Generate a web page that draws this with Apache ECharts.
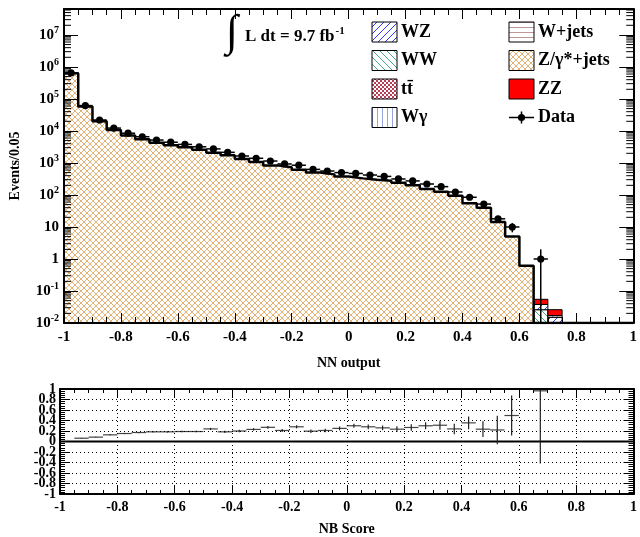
<!DOCTYPE html>
<html><head><meta charset="utf-8">
<script src="https://cdn.jsdelivr.net/npm/echarts@6/dist/echarts.min.js"></script>
<style>html,body{margin:0;padding:0;background:#fff}#c{width:640px;height:537px}</style>
</head><body><div id="c"></div>
<script>
// ---------------- data ----------------
const binCenters = [-0.975,-0.925,-0.875,-0.825,-0.775,-0.725,-0.675,-0.625,-0.575,-0.525,
  -0.475,-0.425,-0.375,-0.325,-0.275,-0.225,-0.175,-0.125,-0.075,-0.025,
  0.025,0.075,0.125,0.175,0.225,0.275,0.325,0.375,0.425,0.475,
  0.525,0.575,0.625,0.675,0.725,0.775,0.825,0.875,0.925,0.975];
const zjets = [640000,58000,20000,10700,7200,5500,4300,3600,3100,2600,
  2100,1750,1320,1080,840,735,610,505,440,375,
  330,300,280,242,200,154,126,94,55,40,
  14.2,5.0,0.62,0,0,0,0,0,0,0];
const ww = [0,0,0,0,0,0,0,0,0,0, 0,0,0,0,0,0,0,0,0,0, 0,0,0,0,0,0,0,0,0,0, 0,0,0,0.026,0.004,0,0,0,0,0];
const wz = [0,0,0,0,0,0,0,0,0,0, 0,0,0,0,0,0,0,0,0,0, 0,0,0,0,0,0,0,0,0,0, 0,0,0,0.012,0.011,0,0,0,0,0];
const wjets = [0,0,0,0,0,0,0,0,0,0, 0,0,0,0,0,0,0,0,0,0, 0,0,0,0,0,0,0,0,0,0, 0,0,0,0,0,0,0,0,0,0];
const ttbar = [0,0,0,0,0,0,0,0,0,0, 0,0,0,0,0,0,0,0,0,0, 0,0,0,0,0,0,0,0,0,0, 0,0,0,0,0,0,0,0,0,0];
const wgamma = [0,0,0,0,0,0,0,0,0,0, 0,0,0,0,0,0,0,0,0,0, 0,0,0,0,0,0,0,0,0,0, 0,0,0,0,0.002,0,0,0,0,0];
const zz = [0,0,0,0,0,0,0,0,0,0, 0,0,0,0,0,0,0,0,0,0, 0,0,0,0,0,0,0,0,0,0, 0,0,0,0.017,0.009,0,0,0,0,0];
const dataVals = [650000,62000,22000,12300,8500,6600,5200,4450,3800,3200,
  2750,2150,1650,1400,1150,930,850,630,560,500,
  470,420,380,316,275,220,182,124,85,52,
  18,10,null,1,null,null,null,null,null,null];
const dataErr = [806,249,148,111,92,81,72,67,62,57,
  52,46,41,37,34,30,29,25,24,22,
  22,20,19,18,17,15,13,11,9.2,7.2,
  4.2,3.2,null,1,null,null,null,null,null,null];
const ratioVals = [null,0.063,0.083,0.127,0.152,0.171,0.184,0.184,0.19,0.19,
  0.24,0.184,0.20,0.23,0.27,0.21,0.28,0.197,0.21,0.25,
  0.30,0.28,0.26,0.235,0.267,0.30,0.31,0.24,0.355,0.235,
  0.22,0.495,null,0.965,null,null,null,null,null,null];
const ratioErr = [null,0.005,0.007,0.009,0.011,0.012,0.013,0.014,0.015,0.016,
  0.02,0.02,0.022,0.024,0.026,0.028,0.03,0.033,0.035,0.037,
  0.04,0.045,0.045,0.055,0.06,0.065,0.085,0.1,0.12,0.15,
  0.27,0.38,null,1.385,null,null,null,null,null,null];
const logTickExps = [-2,-1,0,1,2,3,4,5,6,7];
const ratioTickLabels = [-1,-0.8,-0.6,-0.4,-0.2,0,0.2,0.4,0.6,0.8,1];
const legendLabels = ['WZ','WW','t\u0074\u0304','W\u03b3','W+jets','Z/\u03b3*+jets','ZZ','Data'];
const lumiText = 'L dt = 9.7 fb';
const lumiExp = '-1';

// ---------------- setup ----------------
const HALF = 0.025;
const Y_MIN = -2, Y_MAX = 7.81;
const FONT = 'Liberation Serif';
const lg = v => Math.log10(v);

function makePattern(size, draw) {
  const c = document.createElement('canvas'); c.width = c.height = size;
  const g = c.getContext('2d'); g.fillStyle = '#fff'; g.fillRect(0, 0, size, size);
  draw(g, size);
  return {image: c, repeat: 'repeat'};
}
const patZ = makePattern(6, (g, s) => { g.strokeStyle = 'rgb(228,176,115)'; g.lineWidth = 1;
  g.beginPath(); g.moveTo(0,0); g.lineTo(s,s); g.moveTo(s,0); g.lineTo(0,s); g.stroke(); });
const patWZ = makePattern(7, (g, s) => { g.strokeStyle = 'rgb(50,60,255)'; g.lineWidth = 1;
  g.beginPath(); g.moveTo(0,s); g.lineTo(s,0); g.moveTo(-1,1); g.lineTo(1,-1); g.moveTo(s-1,s+1); g.lineTo(s+1,s-1); g.stroke(); });
const patWW = makePattern(7, (g, s) => { g.strokeStyle = 'rgb(70,170,130)'; g.lineWidth = 1;
  g.beginPath(); g.moveTo(0,0); g.lineTo(s,s); g.moveTo(s-1,-1); g.lineTo(s+1,1); g.moveTo(-1,s-1); g.lineTo(1,s+1); g.stroke(); });
const patTT = makePattern(4, (g) => { g.fillStyle = 'rgb(185,60,85)'; g.fillRect(0,0,2,2); g.fillRect(2,2,2,2); });
const patWG = makePattern(5, (g) => { g.fillStyle = 'rgb(150,165,225)'; g.fillRect(2,0,1,5); });
const patWJ = makePattern(5, (g) => { g.fillStyle = 'rgb(190,150,150)'; g.fillRect(0,2,5,1); });
const colZZ = '#ff0000';

const components = [
  {vals: ww, fill: patWW, stroke: '#000'},
  {vals: wz, fill: patWZ, stroke: '#000'},
  {vals: wjets, fill: patWJ, stroke: '#000'},
  {vals: zjets, fill: patZ, stroke: null},
  {vals: ttbar, fill: patTT, stroke: '#000'},
  {vals: wgamma, fill: patWG, stroke: '#000'},
  {vals: zz, fill: colZZ, stroke: '#000'}
];
const cum = binCenters.map(() => 0);
components.forEach(c => {
  c.items = [];
  binCenters.forEach((x, i) => {
    const v = c.vals[i];
    if (v > 0) {
      const lo = cum[i], hi = cum[i] + v;
      c.items.push([x - HALF, x + HALF, lo > 0 ? lg(lo) : Y_MIN - 1, lg(hi)]);
      cum[i] = hi;
    }
  });
});

const stackSeries = components.map(c => ({
  type: 'custom', xAxisIndex: 0, yAxisIndex: 0, clip: true, z: 2,
  encode: {x: [0, 1], y: [2, 3]},
  data: c.items,
  renderItem: (params, api) => {
    const lo = Math.max(api.value(2), Y_MIN), hi = Math.min(api.value(3), Y_MAX);
    const p0 = api.coord([api.value(0), lo]);
    const p1 = api.coord([api.value(1), hi]);
    return {type: 'rect',
      shape: {x: p0[0], y: p1[1], width: p1[0] - p0[0], height: p0[1] - p1[1]},
      style: {fill: c.fill, stroke: c.stroke || null, lineWidth: c.stroke ? 1 : 0}};
  }
}));

// outline of the Z+jets histogram
const outline = [];
binCenters.forEach((x, i) => {
  const v = zjets[i];
  const y = v > 0 ? Math.max(lg(v), Y_MIN) : Y_MIN;
  outline.push([x - HALF, y], [x + HALF, y]);
});

const dataItems = [];
binCenters.forEach((x, i) => { if (dataVals[i] != null) dataItems.push([x, dataVals[i], dataErr[i]]); });
const ratioItems = [];
binCenters.forEach((x, i) => { if (ratioVals[i] != null) ratioItems.push([x, ratioVals[i], ratioErr[i]]); });

const minorLog = [];
logTickExps.forEach(n => { for (let m = 2; m <= 9; m++) { const l = n + lg(m); if (l < Y_MAX) minorLog.push([-1, l]); } });

const labelStyle = {fontFamily: FONT, fontWeight: 'bold', color: '#000'};
const axisBase = {z: 10, axisLine: {show: true, onZero: false, lineStyle: {color: '#000', width: 2}}, splitLine: {show: false}};

const chart = echarts.init(document.getElementById('c'), null, {renderer: 'canvas'});
const legendX1 = 372, legendX2 = 509, legendTop = 22, rowStep = 28.5, boxW = 25, boxH = 20;
const legendFills = [patWZ, patWW, patTT, patWG, patWJ, patZ, colZZ, null];
const graphics = [];
legendLabels.forEach((lab, k) => {
  const col = k < 4 ? 0 : 1, row = k % 4;
  const bx = col ? legendX2 : legendX1, by = legendTop + row * rowStep;
  if (legendFills[k]) {
    graphics.push({type: 'rect', shape: {x: bx, y: by, width: boxW, height: boxH},
      style: {fill: legendFills[k], stroke: '#000', lineWidth: 1}});
  } else {
    const cy = by + boxH / 2, cx = bx + boxW / 2;
    graphics.push({type: 'line', shape: {x1: bx, y1: cy, x2: bx + boxW, y2: cy}, style: {stroke: '#000', lineWidth: 1.5}});
    graphics.push({type: 'line', shape: {x1: cx, y1: cy - 6, x2: cx, y2: cy + 6}, style: {stroke: '#000', lineWidth: 1.5}});
    graphics.push({type: 'circle', shape: {cx: cx, cy: cy, r: 3.6}, style: {fill: '#000'}});
  }
  graphics.push({type: 'text', x: bx + boxW + 4, y: by + boxH / 2,
    style: {text: lab, font: 'bold 18px "' + FONT + '"', fill: '#000', verticalAlign: 'middle', align: 'left'}});
});
graphics.push({type: 'text', x: 226, y: 33,
  style: {text: '\u222b', font: '44px "' + FONT + '"', fill: '#000', verticalAlign: 'middle', align: 'left'}});
graphics.push({type: 'text', x: 245, y: 37,
  style: {text: '{a|' + lumiText + '}{s|' + lumiExp + '}', verticalAlign: 'middle', align: 'left',
    rich: {a: {fontFamily: FONT, fontWeight: 'bold', fontSize: 17, fill: '#000', color: '#000'},
           s: {fontFamily: FONT, fontWeight: 'bold', fontSize: 11, color: '#000', fill: '#000', padding: [0, 0, 12, 1]}}}});

const option = {
  animation: false,
  backgroundColor: '#fff',
  grid: [
    {left: 60, right: 2, top: 9, height: 314, show: false},
    {left: 60, right: 2, top: 389, height: 105, show: false}
  ],
  xAxis: [
    Object.assign({}, axisBase, {gridIndex: 0, type: 'value', min: -1, max: 1, interval: 0.2, position: 'bottom',
      axisTick: {inside: true, length: 10, lineStyle: {color: '#000', width: 1}},
      minorTick: {show: true, splitNumber: 4, length: 6, lineStyle: {color: '#000', width: 1}},
      axisLabel: Object.assign({}, labelStyle, {fontSize: 15, margin: 7, showMinLabel: true, showMaxLabel: true,
        formatter: v => String(Math.round(v * 10) / 10)}),
      name: 'NN output', nameLocation: 'middle', nameGap: 33,
      nameTextStyle: {fontFamily: FONT, fontWeight: 'bold', fontSize: 14, color: '#000'}}),
    Object.assign({}, axisBase, {gridIndex: 0, type: 'value', min: -1, max: 1, interval: 0.2, position: 'top',
      axisTick: {inside: true, length: 10, lineStyle: {color: '#000', width: 1}},
      minorTick: {show: true, splitNumber: 4, length: 6, lineStyle: {color: '#000', width: 1}},
      axisLabel: {show: false}}),
    Object.assign({}, axisBase, {gridIndex: 1, type: 'value', min: -1, max: 1, interval: 0.2, position: 'bottom',
      axisTick: {inside: true, length: 8, lineStyle: {color: '#000', width: 1}},
      minorTick: {show: true, splitNumber: 4, length: 4, lineStyle: {color: '#000', width: 1}},
      splitLine: {show: true, lineStyle: {color: '#000', width: 1, type: [1, 3]}},
      axisLabel: Object.assign({}, labelStyle, {fontSize: 14, margin: 6, showMinLabel: true, showMaxLabel: true,
        formatter: v => String(Math.round(v * 10) / 10)}),
      name: 'NB Score', nameLocation: 'middle', nameGap: 28,
      nameTextStyle: {fontFamily: FONT, fontWeight: 'bold', fontSize: 14, color: '#000'}}),
    Object.assign({}, axisBase, {gridIndex: 1, type: 'value', min: -1, max: 1, interval: 0.2, position: 'top',
      axisTick: {inside: true, length: 8, lineStyle: {color: '#000', width: 1}},
      minorTick: {show: true, splitNumber: 4, length: 4, lineStyle: {color: '#000', width: 1}},
      axisLabel: {show: false}})
  ],
  yAxis: [
    Object.assign({}, axisBase, {gridIndex: 0, type: 'value', min: Y_MIN, max: Y_MAX, interval: 1, position: 'left',
      axisTick: {inside: true, length: 14, lineStyle: {color: '#000', width: 1}},
      axisLabel: {margin: 5, showMinLabel: true, showMaxLabel: false,
        formatter: v => {
          if (Math.abs(v - Math.round(v)) > 1e-6) return '';
          const n = Math.round(v);
          if (n === 0) return '{b|1}';
          if (n === 1) return '{b|10}';
          return '{b|10}{e|' + n + '}';
        },
        rich: {b: {fontFamily: FONT, fontWeight: 'bold', fontSize: 15, color: '#000'},
               e: {fontFamily: FONT, fontWeight: 'bold', fontSize: 10, color: '#000', padding: [0, 0, 10, 0]}}},
      name: 'Events/0.05', nameLocation: 'middle', nameRotate: 90, nameGap: 42,
      nameTextStyle: {fontFamily: FONT, fontWeight: 'bold', fontSize: 14, color: '#000'}}),
    Object.assign({}, axisBase, {gridIndex: 0, type: 'value', min: Y_MIN, max: Y_MAX, interval: 1, position: 'right',
      axisTick: {inside: true, length: 14, lineStyle: {color: '#000', width: 1}},
      axisLabel: {show: false}}),
    Object.assign({}, axisBase, {gridIndex: 1, type: 'value', min: -1, max: 1, interval: 0.2, position: 'left',
      axisTick: {inside: true, length: 10, lineStyle: {color: '#000', width: 1}},
      minorTick: {show: true, splitNumber: 5, length: 5, lineStyle: {color: '#000', width: 1}},
      splitLine: {show: true, lineStyle: {color: '#000', width: 1, type: [1, 3]}},
      axisLabel: {show: false}}),
    Object.assign({}, axisBase, {gridIndex: 1, type: 'value', min: -1, max: 1, interval: 0.2, position: 'right',
      axisTick: {inside: true, length: 10, lineStyle: {color: '#000', width: 1}},
      minorTick: {show: true, splitNumber: 5, length: 5, lineStyle: {color: '#000', width: 1}},
      axisLabel: {show: false}})
  ],
  graphic: graphics,
  series: stackSeries.concat([
    {type: 'line', xAxisIndex: 0, yAxisIndex: 0, data: outline, symbol: 'none', clip: true, z: 3,
      lineStyle: {color: '#000', width: 2.5}},
    {type: 'custom', xAxisIndex: 0, yAxisIndex: 0, z: 4, clip: true, encode: {x: 0, y: 1},
      data: dataItems,
      renderItem: (params, api) => {
        const x = api.value(0), v = api.value(1), e = api.value(2);
        const c = api.coord([x, lg(v)]);
        const xl = api.coord([x - HALF, lg(v)])[0], xr = api.coord([x + HALF, lg(v)])[0];
        const yt = api.coord([x, Math.min(lg(v + e), Y_MAX)])[1];
        const yb = api.coord([x, v - e > 0 ? Math.max(lg(v - e), Y_MIN) : Y_MIN])[1];
        return {type: 'group', children: [
          {type: 'line', shape: {x1: xl, y1: c[1], x2: xr, y2: c[1]}, style: {stroke: '#000', lineWidth: 1.5}},
          {type: 'line', shape: {x1: c[0], y1: yt, x2: c[0], y2: yb}, style: {stroke: '#000', lineWidth: 1.5}},
          {type: 'circle', shape: {cx: c[0], cy: c[1], r: 3.6}, style: {fill: '#000'}}
        ]};
      }},
    {type: 'custom', xAxisIndex: 0, yAxisIndex: 0, z: 11, encode: {x: 0, y: 1},
      data: minorLog,
      renderItem: (params, api) => {
        const y = api.value(1);
        const pl = api.coord([-1, y]), pr = api.coord([1, y]);
        return {type: 'group', children: [
          {type: 'line', shape: {x1: pl[0], y1: pl[1], x2: pl[0] + 7, y2: pl[1]}, style: {stroke: '#000', lineWidth: 1}},
          {type: 'line', shape: {x1: pr[0], y1: pr[1], x2: pr[0] - 7, y2: pr[1]}, style: {stroke: '#000', lineWidth: 1}}
        ]};
      }},
    {type: 'custom', xAxisIndex: 2, yAxisIndex: 2, z: 11, encode: {x: 0, y: 1},
      data: ratioTickLabels.map(v => [-1, v]),
      renderItem: (params, api) => {
        const v = api.value(1);
        const p = api.coord([-1, v]);
        return {type: 'text', x: p[0] - 4, y: p[1],
          style: {text: String(v), font: 'bold 14px "' + FONT + '"', fill: '#000', align: 'right', verticalAlign: 'middle'}};
      }},
    {type: 'line', xAxisIndex: 2, yAxisIndex: 2, data: [[-1, 0], [1, 0]], symbol: 'none', z: 5,
      lineStyle: {color: '#000', width: 2}},
    {type: 'custom', xAxisIndex: 2, yAxisIndex: 2, z: 6, clip: true, encode: {x: 0, y: 1},
      data: ratioItems,
      renderItem: (params, api) => {
        const x = api.value(0), v = api.value(1), e = api.value(2);
        const c = api.coord([x, v]);
        const xl = api.coord([x - HALF, v])[0], xr = api.coord([x + HALF, v])[0];
        const yt = api.coord([x, v + e])[1], yb = api.coord([x, v - e])[1];
        return {type: 'group', children: [
          {type: 'line', shape: {x1: xl, y1: c[1], x2: xr, y2: c[1]}, style: {stroke: '#444', lineWidth: 1.2}},
          {type: 'line', shape: {x1: c[0], y1: yt, x2: c[0], y2: yb}, style: {stroke: '#222', lineWidth: 1.2}}
        ]};
      }}
  ])
};
chart.setOption(option);
</script>
</body></html>
